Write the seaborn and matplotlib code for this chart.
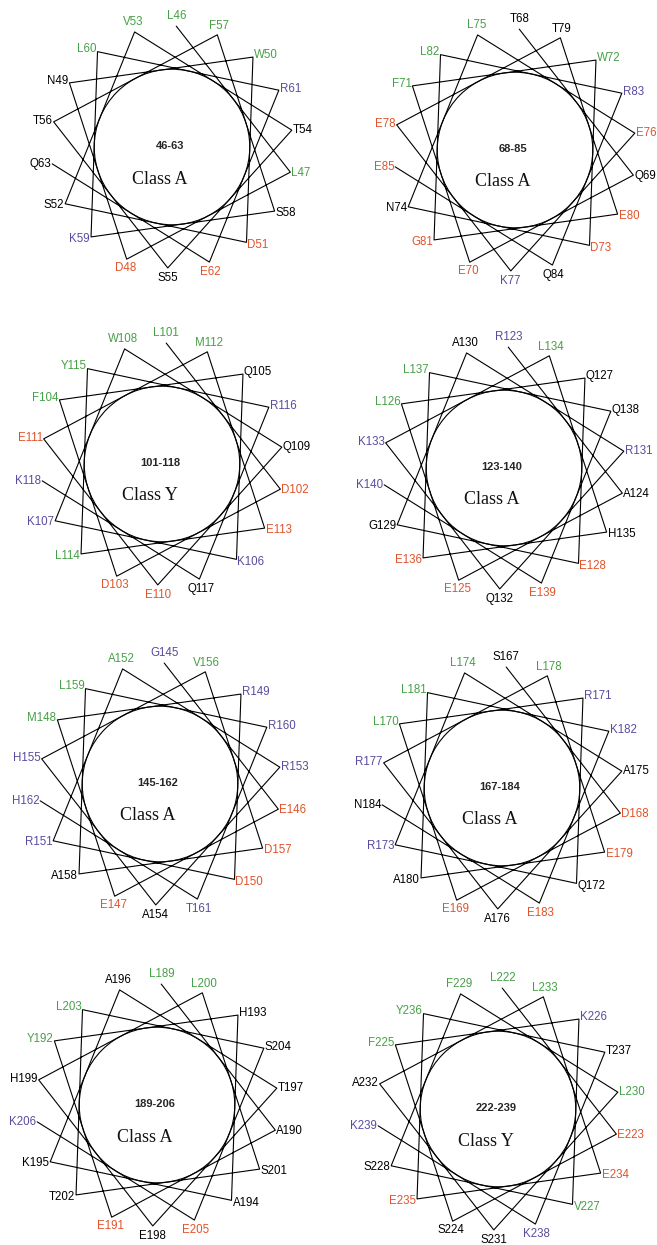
import numpy as np
import matplotlib.pyplot as plt
import seaborn as sns
from matplotlib.patches import Circle

# helical wheels, 18 residues each, 100 degrees per residue
starts = [46, 68, 101, 123, 145, 167, 189, 222]
seqs = [
    "LLDNWDSVTSTFSKLREQ",
    "TQEFWDNLEKETEGLRQE",
    "LDDFQKKWQEEMELYRQK",
    "RAELQEGARQKLHELQEK",
    "GEEMRDRARAHVDALRTH",
    "SDELRQRLAARLEALKEN",
    "LAEYHAKATEHLSTLSEK",
    "LESFKVSFLSALEEYTKK",
]
# g = hydrophobic, r = acidic, b = basic, k = other
colour_codes = [
    "ggrkgrkgkkkgkbgbrk",
    "kkrggrkgrbrkrrgbkr",
    "grrgkbbgkrrgrggbkb",
    "bkrgkrkkbkbgkrgkrb",
    "brrgbrbgbkbgrkgbbb",
    "krrgbkbgkkbgrkgbrk",
    "gkrgkkkkkkkgkkgkrb",
    "grkgbgkggkkgrrgkbb",
]
classes = ["Class A", "Class A", "Class Y", "Class A",
           "Class A", "Class A", "Class A", "Class Y"]

palette = {"g": "#47a047", "r": "#e0532b", "b": "#5b4b9e", "k": "black"}

centres = [(172, 147), (515, 150), (162, 464), (504, 468),
           (160, 784), (502, 788), (157, 1105), (498, 1109)]
R = 121
r_in = R * np.cos(np.radians(50))

sns.set_style("white")
plt.rcParams["font.family"] = ["Liberation Sans", "DejaVu Sans"]

fig = plt.figure(figsize=(6.57, 12.45), dpi=100)
ax = fig.add_axes([0, 0, 1, 1])

for w in range(8):
    cx, cy = centres[w]
    ang = np.radians(88 - 100 * np.arange(18))
    xs = cx + R * np.cos(ang)
    ys = cy - R * np.sin(ang)
    sns.lineplot(x=xs, y=ys, sort=False, estimator=None, ax=ax,
                 color="black", linewidth=0.8)
    ax.add_patch(Circle((cx, cy), r_in, fill=False, ec="black", lw=0.8))

    for i, aa in enumerate(seqs[w]):
        c, s = np.cos(ang[i]), np.sin(ang[i])
        if c > 0.5:
            ha, dx, dy = "left", 1, -s * 3
        elif c < -0.5:
            ha, dx, dy = "right", -1, -s * 3
        else:
            ha, dx, dy = "center", c * 4, -s * 10
        ax.text(xs[i] + dx, ys[i] + dy, f"{aa}{starts[w] + i}",
                ha=ha, va="center", fontsize=8.3,
                color=palette[colour_codes[w][i]])

    ax.text(cx - 2, cy - 1, f"{starts[w]}-{starts[w] + 17}", ha="center",
            va="center", fontsize=8, fontweight="bold")
    ax.text(cx - 12, cy + 32, classes[w], ha="center", va="center",
            fontsize=13, color="#111111",
            family=["Liberation Serif", "DejaVu Serif"])

ax.set_xlim(0, 657)
ax.set_ylim(1245, 0)
ax.set_aspect("equal")
ax.axis("off")

fig.savefig("out.png", dpi=100)
